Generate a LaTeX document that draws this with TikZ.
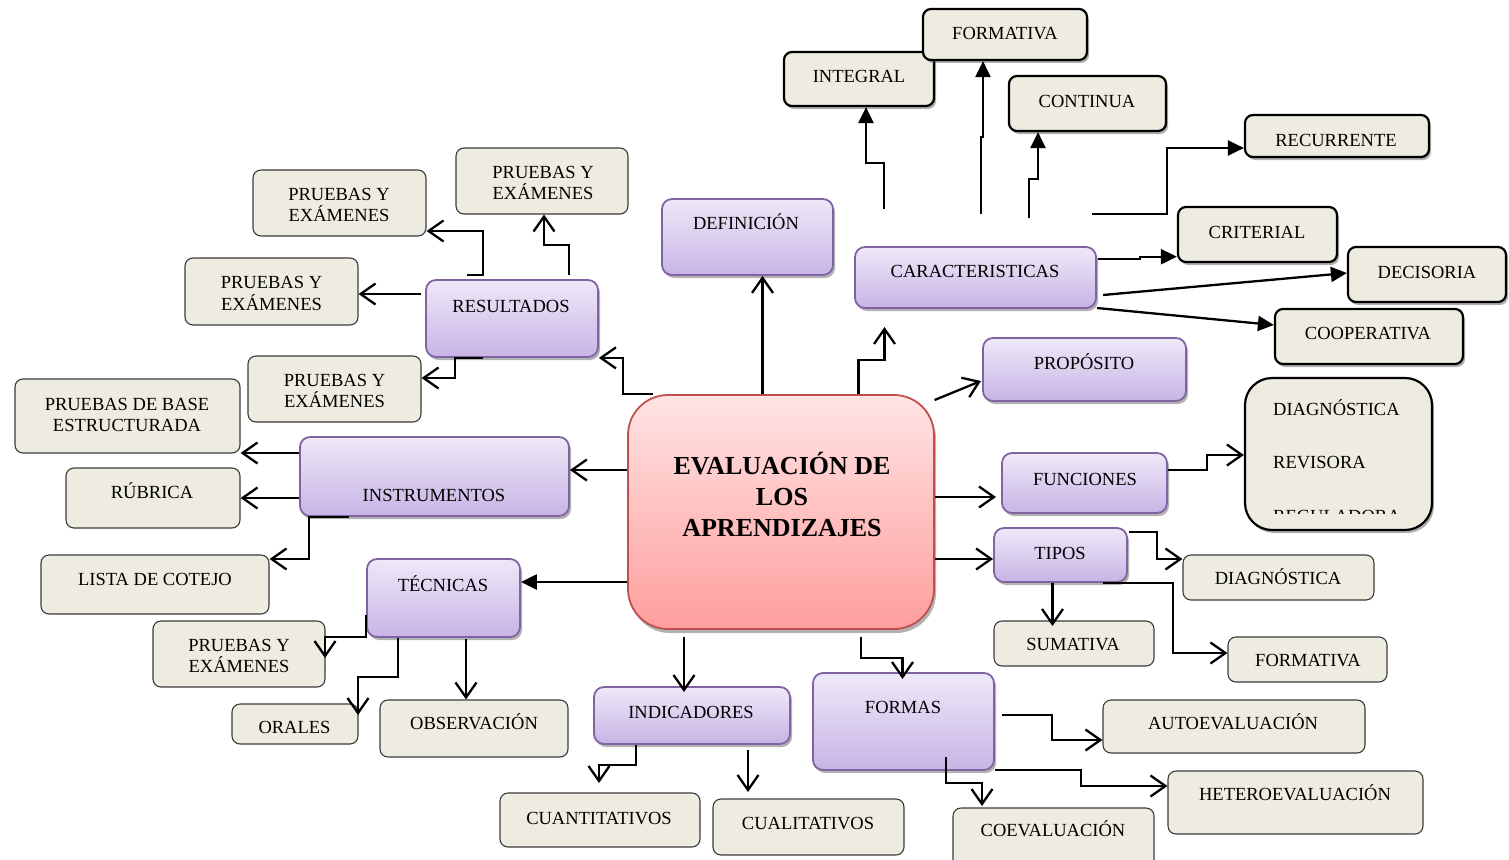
\documentclass[tikz,border=0pt]{standalone}
\usepackage{fontspec}
\setmainfont{Liberation Serif}
\usetikzlibrary{arrows.meta,shadows}
\definecolor{pbord}{HTML}{8064A2}
\definecolor{ptop}{HTML}{EEE9F8}
\definecolor{pbot}{HTML}{C7B4E5}
\definecolor{beige}{HTML}{EEECE1}
\definecolor{rbord}{HTML}{C0504D}
\definecolor{rtop}{HTML}{FFE4E4}
\definecolor{rbot}{HTML}{FF9E9E}
\definecolor{gbord}{HTML}{3A3A3A}
\newcommand\mkbox[6]{\pgfmathsetmacro\mkw{#5-#3}\pgfmathsetmacro\mkh{#6-#4}\pgfmathsetmacro\mkx{(#3+#5)/2}\pgfmathsetmacro\mky{(#4+#6)/2}\node[#1,minimum width=\mkw pt,minimum height=\mkh pt] (#2) at (\mkx,\mky) {};}
\tikzset{
  pbox/.style={draw=pbord,line width=1.8pt,rounded corners=10pt,top color=ptop,bottom color=pbot,inner sep=0pt,drop shadow={shadow xshift=2pt,shadow yshift=-3pt,opacity=0.3,fill=black}},
  bbox/.style={draw=black,line width=2.2pt,rounded corners=8pt,fill=beige,inner sep=0pt,drop shadow={shadow xshift=2pt,shadow yshift=-3pt,opacity=0.45,fill=black!70}},
  tbox/.style={draw=gbord,line width=1.1pt,rounded corners=8pt,fill=beige,inner sep=0pt},
  cbox/.style={draw=rbord,line width=1.8pt,rounded corners=40pt,top color=rtop,bottom color=rbot,inner sep=0pt,drop shadow={shadow xshift=2pt,shadow yshift=-4pt,opacity=0.3,fill=black}},
  txt/.style={font=\fontsize{18.5}{21.5}\selectfont,inner sep=0pt,text height=12.2pt,text depth=0pt},
  txttwo/.style={font=\fontsize{18.5}{21.5}\selectfont,inner sep=0pt,align=center},
  ttl/.style={font=\fontsize{26}{31}\selectfont\bfseries,inner sep=0pt,align=center},
  conn/.style={line width=2.3pt},
  oarr/.style={conn,-{Straight Barb[length=15pt,width=21pt]}},
  farr/.style={conn,-{Triangle[length=16pt,width=15pt]}},
}
\begin{document}
\begin{tikzpicture}[x=1pt,y=-1pt]
\useasboundingbox (0,0) rectangle (1509,859);
% central node
\mkbox{cbox}{ev}{628}{395}{934}{629}
\node[ttl] (ev-t) at (782,494) {EVALUACIÓN DE\\LOS\\APRENDIZAJES};
% purple nodes
\mkbox{pbox}{def}{662}{199}{833}{275}
\node[txt] (def-t) at (746,223) {DEFINICIÓN};
\mkbox{pbox}{car}{855}{247}{1096}{308}
\node[txt] (car-t) at (975,271) {CARACTERISTICAS};
\mkbox{pbox}{res}{426}{280}{598}{357}
\node[txt] (res-t) at (511,306) {RESULTADOS};
\mkbox{pbox}{pro}{983}{338}{1186}{401}
\node[txt] (pro-t) at (1084,363) {PROPÓSITO};
\mkbox{pbox}{ins}{300}{437}{569}{516}
\node[txt] (ins-t) at (434,495) {INSTRUMENTOS};
\mkbox{pbox}{fun}{1002}{453}{1167}{513}
\node[txt] (fun-t) at (1085,479) {FUNCIONES};
\mkbox{pbox}{tip}{994}{528}{1127}{582}
\node[txt] (tip-t) at (1060,553) {TIPOS};
\mkbox{pbox}{tec}{367}{559}{520}{637}
\node[txt] (tec-t) at (443,585) {TÉCNICAS};
\mkbox{pbox}{ind}{594}{687}{790}{744}
\node[txt] (ind-t) at (691,712) {INDICADORES};
\mkbox{pbox}{for}{813}{673}{994}{770}
\node[txt] (for-t) at (903,707) {FORMAS};
% beige boxes with heavy border
\mkbox{bbox}{integ}{784}{52}{934}{106}
\node[txt] (integ-t) at (859,76) {INTEGRAL};
\mkbox{bbox}{formt}{923}{9}{1087}{60}
\node[txt] (formt-t) at (1005,33) {FORMATIVA};
\mkbox{bbox}{cont}{1009}{76}{1166}{131}
\node[txt] (cont-t) at (1087,101) {CONTINUA};
\mkbox{bbox}{recu}{1245}{115}{1429}{157}
\node[txt] (recu-t) at (1336,140) {RECURRENTE};
\mkbox{bbox}{crit}{1178}{207}{1337}{262}
\node[txt] (crit-t) at (1257,232) {CRITERIAL};
\mkbox{bbox}{deci}{1348}{247}{1506}{302}
\node[txt] (deci-t) at (1427,272) {DECISORIA};
\mkbox{bbox}{coop}{1275}{309}{1463}{364}
\node[txt] (coop-t) at (1368,333) {COOPERATIVA};
\mkbox{bbox,rounded corners=27pt}{big}{1245}{378}{1432}{530}
\node[txt,anchor=west] (big-a) at (1273,409) {DIAGNÓSTICA};
\node[txt,anchor=west] (big-b) at (1273,462) {REVISORA};
\begin{scope}
\clip (1245,378) rectangle (1432,513);
\node[txt,anchor=west] (big-c) at (1273,516) {REGULADORA};
\end{scope}
% beige boxes with thin border
\mkbox{tbox}{pa}{253}{170}{426}{236}
\node[txttwo] (pa-t) at (339,205) {PRUEBAS Y\\EXÁMENES};
\mkbox{tbox}{pb}{456}{148}{628}{214}
\node[txttwo] (pb-t) at (543,183) {PRUEBAS Y\\EXÁMENES};
\mkbox{tbox}{pc}{185}{258}{358}{325}
\node[txttwo] (pc-t) at (271.5,293.5) {PRUEBAS Y\\EXÁMENES};
\mkbox{tbox}{pd}{248}{356}{421}{422}
\node[txttwo] (pd-t) at (334.5,391) {PRUEBAS Y\\EXÁMENES};
\mkbox{tbox}{pbase}{15}{379}{240}{453}
\node[txttwo] (pbase-t) at (127,415) {PRUEBAS DE BASE\\ESTRUCTURADA};
\mkbox{tbox}{rub}{66}{468}{240}{528}
\node[txt] (rub-t) at (152,492) {RÚBRICA};
\mkbox{tbox}{lista}{41}{555}{269}{614}
\node[txt] (lista-t) at (155,579) {LISTA DE COTEJO};
\mkbox{tbox}{pe}{153}{621}{325}{687}
\node[txttwo] (pe-t) at (239,656) {PRUEBAS Y\\EXÁMENES};
\mkbox{tbox}{oral}{232}{704}{358}{744}
\node[txt] (oral-t) at (294.5,727) {ORALES};
\mkbox{tbox}{obs}{380}{700}{568}{757}
\node[txt] (obs-t) at (474,723) {OBSERVACIÓN};
\mkbox{tbox}{cuan}{500}{793}{700}{847}
\node[txt] (cuan-t) at (599,818) {CUANTITATIVOS};
\mkbox{tbox}{cual}{713}{799}{904}{855}
\node[txt] (cual-t) at (808,823) {CUALITATIVOS};
\mkbox{tbox}{coev}{953}{808}{1154}{880}
\node[txt] (coev-t) at (1053,830) {COEVALUACIÓN};
\mkbox{tbox}{hete}{1168}{771}{1423}{834}
\node[txt] (hete-t) at (1295,794) {HETEROEVALUACIÓN};
\mkbox{tbox}{auto}{1103}{700}{1365}{753}
\node[txt] (auto-t) at (1233,723) {AUTOEVALUACIÓN};
\mkbox{tbox}{suma}{994}{621}{1154}{666}
\node[txt] (suma-t) at (1073,644) {SUMATIVA};
\mkbox{tbox}{diag}{1183}{555}{1374}{600}
\node[txt] (diag-t) at (1278,578) {DIAGNÓSTICA};
\mkbox{tbox}{formb}{1228}{637}{1387}{682}
\node[txt] (formb-t) at (1308,660) {FORMATIVA};
% free connector ends
\coordinate (carin) at (884.5,327);
\coordinate (proin) at (981,381);
% connectors from the centre
\draw[oarr] ([xshift=26pt]ev.north west) -- (623,0 |- ev.north) |- (res.south east);
\draw[oarr] (762.5,0 |- ev.north) -- (762.5,0 |- def.south);
\draw[oarr] (858.5,0 |- ev.north) |- (884.5,360) -- (carin);
\draw[oarr] (934.6,400) -- (proin);
\draw[oarr] (ev.east |- 0,497) -- (996,497);
\draw[oarr] (ev.east |- 0,559) -- (tip.west |- 0,559);
\draw[oarr] (ev.west |- 0,470) -- (ins.east |- 0,470);
\draw[farr] (ev.west |- 0,582) -- (tec.east |- 0,582);
\draw[oarr] (684,637) -- (684,692);
\draw[oarr] (861,637) |- (902.5,658) -- (902.5,679);
% resultados
\draw[oarr] (467,275) -| (483,231) -- (pa.east |- 0,231);
\draw[oarr] (569,275) |- (544,245) -- (544,0 |- pb.south);
\draw[oarr] (421,294) -- (pc.east |- 0,294);
\draw[oarr] (483,358) -| (455,378) -- (pd.east |- 0,378);
% instrumentos
\draw[oarr] (ins.west |- 0,453) -- (pbase.east |- 0,453);
\draw[oarr] (ins.west |- 0,498) -- (rub.east |- 0,498);
\draw[oarr] (348.5,0 |- ins.south) -| (309,559) -- (lista.east |- 0,559);
% tecnicas
\draw[oarr] (tec.west |- 0,615) |- (325,637) -- (325,658);
\draw[oarr] (398,0 |- tec.south) |- (358,677) -- (358,715);
\draw[oarr] (466,639) -- (466,0 |- obs.north);
% indicadores
\draw[oarr] (636,0 |- ind.south) |- (599,765) -- (599,783);
\draw[oarr] (748,750) -- (748,792);
% formas
\draw[oarr] (1002,715) -| (1052,740) -- (auto.west |- 0,740);
\draw[oarr] (for.east |- 0,770) -| (1081,786) -- (hete.west |- 0,786);
\draw[oarr] (946,757) |- (982,783) -- (982,806);
% tipos
\draw[oarr] (1129,532) -| (1157,559) -- (diag.west |- 0,559);
\draw[oarr] (1052.5,0 |- tip.south) -- (1052.5,626);
\draw[oarr] (1103,0 |- tip.south) -| (1173,653) -- (formb.west |- 0,653);
% funciones
\draw[oarr] (fun.east |- 0,470) -| (1207,455) -- (big.west |- 0,455);
% caracteristicas
\draw[farr] (884,209) |- (866,163) -- (866,0 |- integ.south);
\draw[farr] (981,214) -- (981,137) -- (983,137) -- (983,0 |- formt.south);
\draw[farr] (1029,218) |- (1038,179) -- (1038,0 |- cont.south);
\draw[farr] (1092,214) -| (1167,148) -- (recu.west |- 0,148);
\draw[farr] (1098,259) -- (1140,259) -- (1140,256.7) -- (crit.west |- 0,256.7);
\draw[farr] (1103,295) -- (deci.west |- 0,273);
\draw[farr] (1097,308) -- (coop.west |- 0,325);
\end{tikzpicture}
\end{document}
